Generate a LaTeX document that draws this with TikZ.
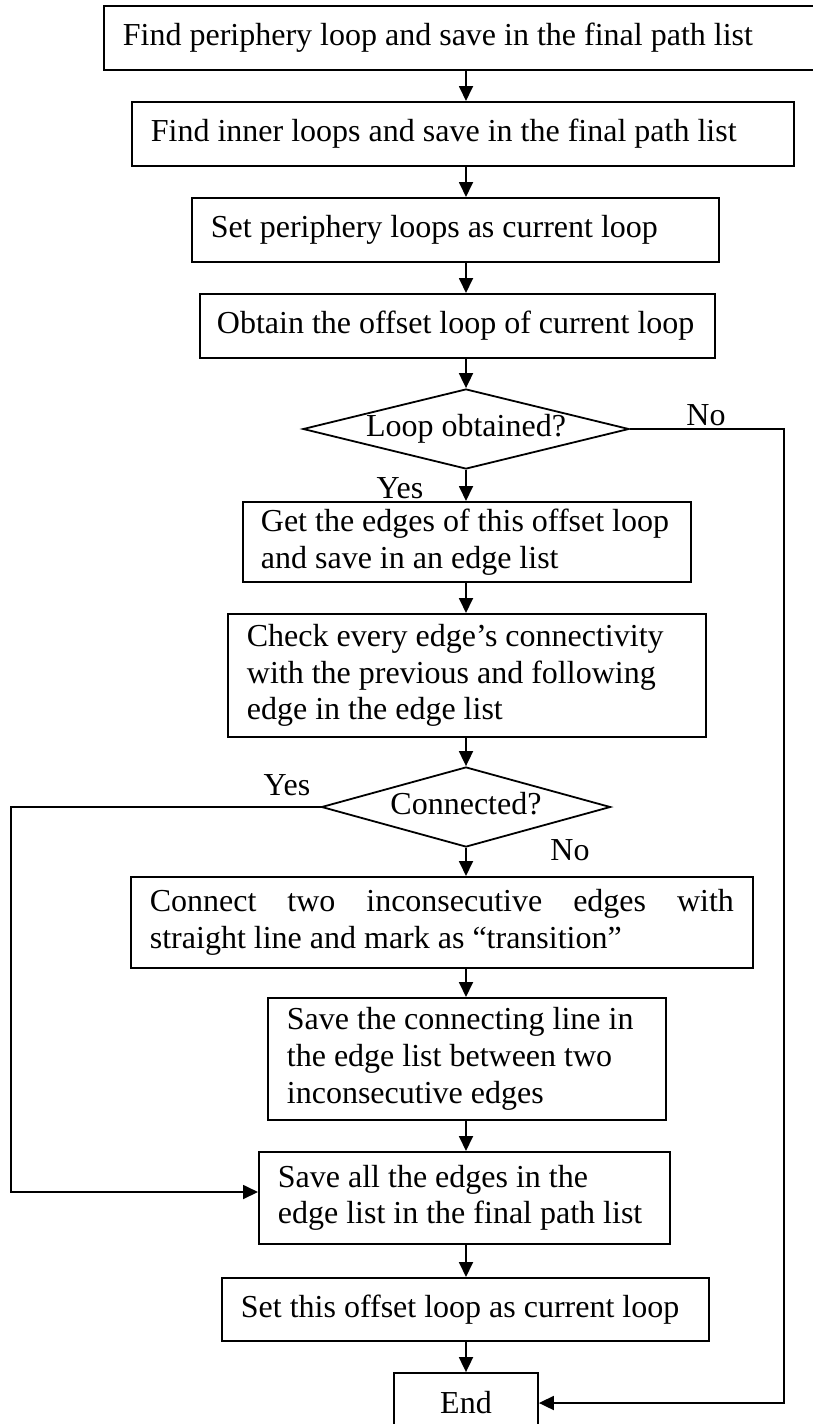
\documentclass[tikz,border=0pt]{standalone}
\usepackage{fontspec}
\setmainfont{Liberation Serif}
\usepackage{tikz}
\usetikzlibrary{arrows.meta,shapes.geometric}

\begin{document}
\begin{tikzpicture}[x=1pt, y=-1pt, >={Triangle[length=15pt,width=14pt]}, line width=1.8pt,
    font=\fontsize{32}{36.8}\selectfont,
    proc/.style={draw, anchor=north west, align=flush left, inner xsep=19pt, inner ysep=0pt},
    decide/.style={draw, diamond, inner sep=0pt, text height=21.5pt, text depth=6.8pt}]
    \useasboundingbox (0,0) rectangle (812,1424);

    % process boxes, placed by their top left corner
    \node[proc, text width=700pt, minimum height=64pt] (b1) at (103,5) {Find periphery loop and save in the final path list};
    \node[proc, text width=624pt, minimum height=64pt] (b2) at (131,101) {Find inner loops and save in the final path list};
    \node[proc, text width=489pt, minimum height=64pt] (b3) at (191,197) {Set periphery loops as current loop};
    \node[proc, text width=481pt, inner xsep=17pt, minimum height=64pt] (b4) at (199,293) {Obtain the offset loop of current loop};
    \node[decide, aspect=4, minimum width=326pt, minimum height=80pt] (d1) at (466,429) {Loop obtained?};
    \node[proc, text width=412pt, inner xsep=18pt, minimum height=80pt] (b5) at (242,501) {Get the edges of this offset loop\\and save in an edge list};
    \node[proc, text width=440pt, minimum height=123pt] (b6) at (227,613) {Check every edge's connectivity\\with the previous and following\\edge in the edge list};
    \node[decide, aspect=3.6, minimum width=289pt, minimum height=80pt] (d2) at (466,807) {Connected?};
    \node[proc, text width=584pt, minimum height=91pt] (b7) at (130,876) {Connect \hfill two \hfill inconsecutive \hfill edges \hfill with\\straight line and mark as ``transition''};
    \node[proc, text width=360pt, minimum height=122pt] (b8) at (267,997) {Save the connecting line in\\the edge list between two\\inconsecutive edges};
    \node[proc, text width=373pt, minimum height=92pt] (b9) at (258,1151) {Save all the edges in the\\edge list in the final path list};
    \node[proc, text width=449pt, minimum height=63pt] (b10) at (221,1277) {Set this offset loop as current loop};
    \node[draw, minimum width=144pt, minimum height=60pt] (end) at (466,1403) {End};

    % branch labels
    \node (yes1) at (400,488) {Yes};
    \node (no1) at (706,415) {No};
    \node (yes2) at (287,785) {Yes};
    \node (no2) at (570,850) {No};

    \coordinate (rt) at (784,429);
    \coordinate (lf) at (11,1192);

    % main column
    \foreach \a/\b in {b1/b2,b2/b3,b3/b4,b4/d1,d1/b5,b5/b6,b6/d2,d2/b7,b7/b8,b8/b9,b9/b10,b10/end}
        \draw[->] (\a.south -| d1) -- (\b.north -| d1);

    % side branches
    \draw[->] (d1.east) -- (rt) |- (end.east);
    \draw[->] (d2.west) -| (lf) -- (lf -| b9.west);
\end{tikzpicture}
\end{document}
